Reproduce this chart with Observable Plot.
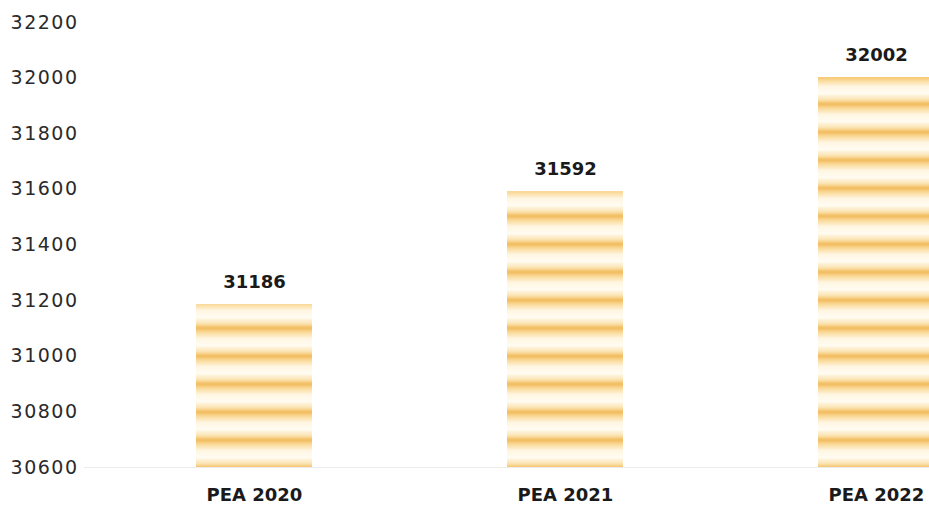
<!DOCTYPE html>
<html>
<head>
<meta charset="utf-8">
<script src="https://cdn.jsdelivr.net/npm/d3@7"></script>
<script src="https://cdn.jsdelivr.net/npm/@observablehq/plot@0.6"></script>
<style>
  html, body { margin: 0; padding: 0; background: #fff; }
  #chart svg { display: block; }
</style>
</head>
<body>
<div id="chart"></div>
<script>
const categories = ["PEA 2020", "PEA 2021", "PEA 2022"];
const values = [31186, 31592, 32002];
const yTicks = [30600, 30800, 31000, 31200, 31400, 31600, 31800, 32000, 32200];
const baseValue = 30600;

const data = categories.map((c, i) => ({category: c, value: values[i]}));

const chart = Plot.plot({
  width: 929,
  height: 512,
  marginTop: 22,
  marginBottom: 45,
  marginLeft: 84,
  marginRight: 0,
  style: {fontFamily: "'DejaVu Sans', Verdana, sans-serif", background: "#fff"},
  x: {domain: categories, range: [196, 936], paddingInner: 0.628, paddingOuter: 0, align: 0},
  y: {domain: [30600, 32200]},
  marks: [
    Plot.ruleY([baseValue], {stroke: "#ececec", strokeWidth: 1}),
    Plot.barY(data, {x: "category", y1: baseValue, y2: "value", fill: "url(#peaStripes)"}),
    Plot.text(data, {x: "category", y: "value", text: d => String(d.value), dy: -22,
      fontSize: 18, fontWeight: "bold", fill: "#1a1a1a", style: "letter-spacing:1px"}),
    Plot.axisY({ticks: yTicks, tickFormat: d => String(d), tickSize: 0, tickPadding: 6,
      fontSize: 19, fill: "#2a2a2a", label: null}),
    Plot.axisX({tickSize: 0, tickPadding: 21, fontSize: 18, fontWeight: "bold", fill: "#1a1a1a", label: null})
  ]
});

const svgNS = "http://www.w3.org/2000/svg";
const defs = document.createElementNS(svgNS, "defs");
defs.innerHTML = `
  <linearGradient id="peaStripeGrad" x1="0" y1="0" x2="0" y2="1">
    <stop offset="0" stop-color="#f3bb5c"/>
    <stop offset="0.15" stop-color="#f9d998"/>
    <stop offset="0.38" stop-color="#fff6e2"/>
    <stop offset="0.62" stop-color="#fffcf2"/>
    <stop offset="0.85" stop-color="#fae2ad"/>
    <stop offset="1" stop-color="#f3bb5c"/>
  </linearGradient>
  <pattern id="peaStripes" patternUnits="userSpaceOnUse" x="0" y="300" width="40" height="28">
    <rect width="40" height="28" fill="url(#peaStripeGrad)"/>
  </pattern>`;
chart.insertBefore(defs, chart.firstChild);
chart.querySelectorAll("g[aria-label='y-axis tick label'] text").forEach(t => t.setAttribute("letter-spacing", "1.5"));
document.getElementById("chart").appendChild(chart);
</script>
</body>
</html>
